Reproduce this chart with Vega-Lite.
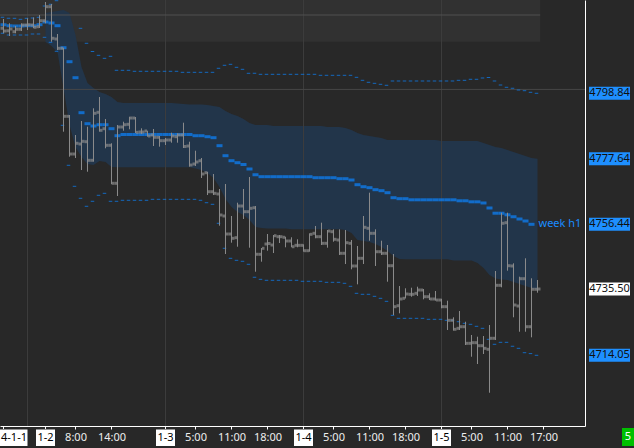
{
  "$schema": "https://vega.github.io/schema/vega-lite/v6.json",
  "width": 585,
  "height": 426,
  "autosize": {"type": "none"},
  "padding": {"left": 0, "top": 0, "right": 49, "bottom": 22},
  "background": "#282828",
  "config": {"view": {"stroke": null}, "font": "Noto Sans", "axis": {"labelOverlap": false}},
  "datasets": {
    "bars": [
      {"k":0,"open":4819.87,"high":4822.88,"low":4818.25,"close":4819.0,"mid":4821.04,"outerHi":4823.43,"outerLo":4818.25},
      {"k":1,"open":4819.09,"high":4821.49,"low":4817.38,"close":4819.65,"mid":4820.71,"outerHi":4823.11,"outerLo":4817.7},
      {"k":2,"open":4818.77,"high":4820.62,"low":4818.25,"close":4819.55,"mid":4820.62,"outerHi":4823.11,"outerLo":4817.7},
      {"k":3,"open":4819.55,"high":4821.49,"low":4819.0,"close":4820.94,"mid":4820.62,"outerHi":4822.78,"outerLo":4817.7},
      {"k":4,"open":4820.94,"high":4823.11,"low":4819.32,"close":4821.04,"mid":4820.71,"outerHi":4823.11,"outerLo":4817.7},
      {"k":5,"open":4820.94,"high":4823.37,"low":4819.87,"close":4820.2,"mid":4820.71,"outerHi":4823.2,"outerLo":4818.03},
      {"k":6,"open":4820.39,"high":4824.18,"low":4819.97,"close":4822.33,"mid":4821.04,"outerHi":4823.43,"outerLo":4818.03},
      {"k":7,"open":4822.33,"high":4828.38,"low":4821.49,"close":4826.86,"bandHi":4824.82,"bandLo":4815.44,"mid":4821.91,"outerHi":4827.09,"outerLo":4816.96},
      {"k":8,"open":4826.86,"high":4827.74,"low":4815.53,"close":4816.64,"bandHi":4825.15,"bandLo":4814.14,"mid":4821.59,"outerHi":4827.64,"outerLo":4815.34},
      {"k":9,"open":4816.41,"high":4818.03,"low":4812.85,"close":4813.4,"bandHi":4825.47,"bandLo":4812.2,"mid":4820.71,"outerHi":4828.8,"outerLo":4812.43},
      {"k":10,"open":4813.4,"high":4813.59,"low":4786.41,"close":4791.39,"bandHi":4825.79,"bandLo":4800.55,"mid":4813.59,"outerLo":4788.48},
      {"k":11,"open":4791.39,"high":4791.81,"low":4778.32,"close":4779.19,"bandHi":4824.82,"bandLo":4788.58,"mid":4809.06,"outerLo":4775.54},
      {"k":12,"open":4779.19,"high":4785.34,"low":4777.9,"close":4782.66,"bandHi":4817.7,"bandLo":4781.46,"mid":4803.88,"outerLo":4768.74},
      {"k":13,"open":4782.43,"high":4789.87,"low":4774.01,"close":4783.3,"bandHi":4807.35,"bandLo":4778.22,"mid":4792.56,"outerHi":4819.87,"outerLo":4764.86},
      {"k":14,"open":4783.17,"high":4788.03,"low":4773.46,"close":4777.15,"bandHi":4802.17,"bandLo":4775.96,"mid":4789.0,"outerHi":4815.02,"outerLo":4762.27},
      {"k":15,"open":4777.15,"high":4793.98,"low":4776.7,"close":4792.36,"bandHi":4800.55,"bandLo":4775.63,"mid":4788.25,"outerHi":4812.36,"outerLo":4763.89},
      {"k":16,"open":4792.69,"high":4797.64,"low":4786.41,"close":4786.86,"bandHi":4799.26,"bandLo":4776.93,"mid":4788.67,"outerHi":4811.13,"outerLo":4765.83},
      {"k":17,"open":4787.38,"high":4790.52,"low":4781.04,"close":4782.01,"bandHi":4798.61,"bandLo":4776.6,"mid":4788.67,"outerHi":4810.16,"outerLo":4766.47},
      {"k":18,"open":4782.01,"high":4782.66,"low":4769.39,"close":4769.71,"bandHi":4797.64,"bandLo":4774.99,"mid":4787.38,"outerHi":4810.81,"outerLo":4763.89},
      {"k":19,"open":4769.71,"high":4788.58,"low":4765.6,"close":4787.93,"bandHi":4796.02,"bandLo":4774.89,"mid":4785.11,"outerHi":4806.28,"outerLo":4763.89},
      {"k":20,"open":4787.93,"high":4789.64,"low":4786.73,"close":4788.67,"bandHi":4795.7,"bandLo":4774.89,"mid":4785.5,"outerHi":4806.28,"outerLo":4764.21},
      {"k":21,"open":4788.8,"high":4791.26,"low":4787.19,"close":4790.84,"bandHi":4795.7,"bandLo":4774.89,"mid":4785.5,"outerHi":4806.28,"outerLo":4764.21},
      {"k":22,"open":4790.84,"high":4791.17,"low":4785.99,"close":4786.21,"bandHi":4795.7,"bandLo":4774.89,"mid":4785.5,"outerHi":4805.96,"outerLo":4764.21},
      {"k":23,"open":4786.31,"high":4787.51,"low":4785.66,"close":4786.31,"bandHi":4795.7,"bandLo":4774.89,"mid":4785.5,"outerHi":4805.96,"outerLo":4764.21},
      {"k":24,"open":4786.64,"high":4786.73,"low":4784.79,"close":4785.02,"bandHi":4795.7,"bandLo":4774.89,"mid":4785.5,"outerHi":4805.96,"outerLo":4764.21},
      {"k":25,"open":4785.34,"high":4787.28,"low":4781.78,"close":4784.6,"bandHi":4795.7,"bandLo":4774.89,"mid":4785.5,"outerHi":4805.96,"outerLo":4764.53},
      {"k":26,"open":4784.6,"high":4785.02,"low":4781.56,"close":4783.5,"bandHi":4795.7,"bandLo":4774.89,"mid":4785.5,"outerHi":4805.96,"outerLo":4764.53},
      {"k":27,"open":4783.5,"high":4784.37,"low":4782.11,"close":4783.72,"bandHi":4795.7,"bandLo":4774.89,"mid":4785.5,"outerHi":4805.96,"outerLo":4764.53},
      {"k":28,"open":4783.72,"high":4786.09,"low":4782.85,"close":4785.02,"bandHi":4795.7,"bandLo":4774.89,"mid":4785.5,"outerHi":4805.96,"outerLo":4764.53},
      {"k":29,"open":4784.79,"high":4785.89,"low":4782.85,"close":4785.34,"bandHi":4795.54,"bandLo":4774.89,"mid":4785.5,"outerHi":4805.96,"outerLo":4764.53},
      {"k":30,"open":4785.34,"high":4789.32,"low":4781.13,"close":4781.62,"bandHi":4795.37,"bandLo":4774.89,"mid":4785.5,"outerHi":4805.63,"outerLo":4764.53},
      {"k":31,"open":4781.78,"high":4783.17,"low":4775.08,"close":4775.63,"bandHi":4795.21,"bandLo":4774.89,"mid":4785.5,"outerHi":4805.63,"outerLo":4764.53},
      {"k":32,"open":4775.96,"high":4780.26,"low":4775.31,"close":4776.6,"bandHi":4795.21,"bandLo":4774.5,"mid":4785.11,"outerHi":4805.63,"outerLo":4764.53},
      {"k":33,"open":4777.02,"high":4777.9,"low":4771.43,"close":4772.72,"bandHi":4795.21,"bandLo":4774.01,"mid":4785.11,"outerHi":4805.63,"outerLo":4764.21},
      {"k":34,"open":4773.14,"high":4773.46,"low":4765.92,"close":4766.99,"bandHi":4795.05,"bandLo":4773.04,"mid":4784.79,"outerHi":4805.63,"outerLo":4763.43},
      {"k":35,"open":4766.99,"high":4772.72,"low":4765.92,"close":4766.47,"bandHi":4794.73,"bandLo":4771.43,"mid":4784.47,"outerHi":4805.63,"outerLo":4762.91},
      {"k":36,"open":4766.25,"high":4767.87,"low":4755.99,"close":4759.45,"bandHi":4794.4,"bandLo":4768.51,"mid":4781.88,"outerHi":4806.93,"outerLo":4756.77},
      {"k":37,"open":4759.13,"high":4769.48,"low":4746.83,"close":4753.3,"bandHi":4793.11,"bandLo":4764.63,"mid":4778.64,"outerHi":4807.9,"outerLo":4748.68},
      {"k":38,"open":4753.3,"high":4759.13,"low":4750.49,"close":4751.91,"bandHi":4792.14,"bandLo":4762.04,"mid":4777.02,"outerHi":4808.22,"outerLo":4745.44},
      {"k":39,"open":4752.11,"high":4763.43,"low":4749.19,"close":4762.36,"bandHi":4791.49,"bandLo":4760.42,"mid":4776.38,"outerHi":4807.25,"outerLo":4744.79},
      {"k":40,"open":4762.36,"high":4767.87,"low":4758.16,"close":4760.52,"bandHi":4790.52,"bandLo":4759.45,"mid":4775.79,"outerHi":4806.6,"outerLo":4744.47},
      {"k":41,"open":4760.52,"high":4771.75,"low":4748.87,"close":4761.62,"bandHi":4789.22,"bandLo":4757.83,"mid":4774.34,"outerHi":4805.31,"outerLo":4743.5},
      {"k":42,"open":4761.81,"high":4762.36,"low":4741.1,"close":4746.73,"bandHi":4788.58,"bandLo":4755.57,"mid":4772.49,"outerHi":4805.31,"outerLo":4739.29},
      {"k":43,"open":4746.73,"high":4748.77,"low":4744.34,"close":4748.67,"bandHi":4788.58,"bandLo":4755.24,"mid":4771.85,"outerHi":4804.98,"outerLo":4738.64},
      {"k":44,"open":4750.07,"high":4753.3,"low":4747.9,"close":4750.23,"bandHi":4788.58,"bandLo":4755.08,"mid":4771.85,"outerHi":4804.98,"outerLo":4738.32},
      {"k":45,"open":4749.74,"high":4752.98,"low":4747.15,"close":4752.75,"bandHi":4788.25,"bandLo":4755.08,"mid":4771.85,"outerHi":4804.98,"outerLo":4738.32},
      {"k":46,"open":4752.43,"high":4752.98,"low":4750.39,"close":4752.43,"bandHi":4788.25,"bandLo":4755.08,"mid":4771.85,"outerHi":4804.98,"outerLo":4738.32},
      {"k":47,"open":4752.24,"high":4752.43,"low":4749.0,"close":4751.04,"bandHi":4788.25,"bandLo":4755.08,"mid":4771.85,"outerHi":4804.98,"outerLo":4738.32},
      {"k":48,"open":4751.04,"high":4752.24,"low":4749.0,"close":4749.19,"bandHi":4788.25,"bandLo":4754.82,"mid":4771.85,"outerHi":4804.98,"outerLo":4738.32},
      {"k":49,"open":4749.64,"high":4751.59,"low":4749.0,"close":4749.64,"bandHi":4788.25,"bandLo":4754.82,"mid":4771.85,"outerHi":4804.98,"outerLo":4738.32},
      {"k":50,"open":4749.64,"high":4749.97,"low":4747.57,"close":4747.9,"bandHi":4788.25,"bandLo":4754.82,"mid":4771.85,"outerHi":4804.98,"outerLo":4738.0},
      {"k":51,"open":4747.9,"high":4753.53,"low":4747.57,"close":4753.2,"bandHi":4788.25,"bandLo":4754.82,"mid":4771.85,"outerHi":4804.98,"outerLo":4738.0},
      {"k":52,"open":4753.53,"high":4755.89,"low":4751.91,"close":4752.43,"bandHi":4788.25,"bandLo":4754.82,"mid":4771.52,"outerHi":4804.98,"outerLo":4738.0},
      {"k":53,"open":4752.43,"high":4756.96,"low":4749.74,"close":4750.29,"bandHi":4788.25,"bandLo":4754.82,"mid":4771.52,"outerHi":4804.66,"outerLo":4738.0},
      {"k":54,"open":4750.29,"high":4754.6,"low":4748.87,"close":4754.27,"bandHi":4787.93,"bandLo":4754.82,"mid":4771.52,"outerHi":4804.66,"outerLo":4737.67},
      {"k":55,"open":4754.05,"high":4754.82,"low":4750.81,"close":4751.59,"bandHi":4787.93,"bandLo":4754.82,"mid":4771.52,"outerHi":4804.66,"outerLo":4737.67},
      {"k":56,"open":4751.36,"high":4754.82,"low":4746.51,"close":4747.06,"bandHi":4787.93,"bandLo":4754.82,"mid":4771.2,"outerHi":4804.66,"outerLo":4737.67},
      {"k":57,"open":4747.06,"high":4754.6,"low":4743.59,"close":4750.49,"bandHi":4787.61,"bandLo":4754.6,"mid":4771.2,"outerHi":4804.66,"outerLo":4737.35},
      {"k":58,"open":4750.29,"high":4751.36,"low":4741.88,"close":4742.95,"bandHi":4786.96,"bandLo":4753.63,"mid":4770.78,"outerHi":4804.66,"outerLo":4736.38},
      {"k":59,"open":4742.95,"high":4749.42,"low":4737.02,"close":4745.44,"bandHi":4785.99,"bandLo":4751.36,"mid":4769.26,"outerHi":4804.01,"outerLo":4734.11},
      {"k":60,"open":4745.44,"high":4759.13,"low":4743.59,"close":4755.47,"bandHi":4785.34,"bandLo":4751.04,"mid":4768.61,"outerHi":4803.04,"outerLo":4733.79},
      {"k":61,"open":4755.15,"high":4766.67,"low":4751.13,"close":4753.53,"bandHi":4785.02,"bandLo":4750.71,"mid":4768.29,"outerHi":4802.4,"outerLo":4733.79},
      {"k":62,"open":4753.53,"high":4754.82,"low":4742.95,"close":4747.57,"bandHi":4784.69,"bandLo":4750.07,"mid":4767.64,"outerHi":4802.07,"outerLo":4733.14},
      {"k":63,"open":4747.57,"high":4751.13,"low":4746.51,"close":4747.06,"bandHi":4784.37,"bandLo":4749.1,"mid":4767.32,"outerHi":4801.75,"outerLo":4732.49},
      {"k":64,"open":4747.06,"high":4749.74,"low":4737.87,"close":4743.04,"bandHi":4783.72,"bandLo":4747.8,"mid":4766.67,"outerHi":4801.43,"outerLo":4731.52},
      {"k":65,"open":4743.04,"high":4746.83,"low":4727.09,"close":4729.78,"bandHi":4783.72,"bandLo":4746.18,"mid":4765.05,"outerHi":4802.82,"outerLo":4726.99},
      {"k":66,"open":4730.1,"high":4736.47,"low":4727.64,"close":4732.27,"bandHi":4783.72,"bandLo":4745.21,"mid":4764.73,"outerHi":4802.82,"outerLo":4726.02},
      {"k":67,"open":4732.49,"high":4735.73,"low":4732.43,"close":4733.89,"bandHi":4783.72,"bandLo":4745.12,"mid":4764.73,"outerHi":4802.82,"outerLo":4726.02},
      {"k":68,"open":4733.79,"high":4735.92,"low":4733.01,"close":4733.79,"bandHi":4783.72,"bandLo":4745.12,"mid":4764.37,"outerHi":4802.82,"outerLo":4726.02},
      {"k":69,"open":4734.11,"high":4736.25,"low":4733.24,"close":4735.18,"bandHi":4783.72,"bandLo":4745.12,"mid":4764.37,"outerHi":4802.82,"outerLo":4726.02},
      {"k":70,"open":4735.18,"high":4735.5,"low":4732.17,"close":4733.01,"bandHi":4783.72,"bandLo":4745.12,"mid":4764.37,"outerHi":4802.82,"outerLo":4726.02},
      {"k":71,"open":4733.01,"high":4734.11,"low":4731.94,"close":4732.27,"bandHi":4783.72,"bandLo":4745.12,"mid":4764.37,"outerHi":4802.82,"outerLo":4725.7},
      {"k":72,"open":4732.27,"high":4734.86,"low":4731.72,"close":4731.94,"bandHi":4783.72,"bandLo":4745.12,"mid":4764.37,"outerHi":4802.82,"outerLo":4725.7},
      {"k":73,"open":4731.94,"high":4732.36,"low":4729.26,"close":4729.78,"bandHi":4783.4,"bandLo":4745.12,"mid":4764.37,"outerHi":4802.82,"outerLo":4725.7},
      {"k":74,"open":4729.78,"high":4731.72,"low":4722.24,"close":4725.37,"bandHi":4783.4,"bandLo":4745.12,"mid":4764.37,"outerHi":4802.82,"outerLo":4725.37},
      {"k":75,"open":4725.37,"high":4726.34,"low":4722.01,"close":4722.46,"bandHi":4783.4,"bandLo":4744.73,"mid":4764.37,"outerHi":4802.82,"outerLo":4725.37},
      {"k":76,"open":4722.78,"high":4728.38,"low":4722.24,"close":4723.3,"bandHi":4783.4,"bandLo":4744.73,"mid":4764.05,"outerHi":4803.04,"outerLo":4724.92},
      {"k":77,"open":4723.3,"high":4724.92,"low":4717.38,"close":4717.93,"bandHi":4783.4,"bandLo":4744.73,"mid":4764.05,"outerHi":4803.04,"outerLo":4724.4},
      {"k":78,"open":4717.93,"high":4720.62,"low":4713.59,"close":4718.13,"bandHi":4783.4,"bandLo":4744.73,"mid":4763.72,"outerHi":4803.37,"outerLo":4724.08},
      {"k":79,"open":4718.13,"high":4720.07,"low":4711.23,"close":4717.15,"bandHi":4783.4,"bandLo":4743.92,"mid":4763.72,"outerHi":4803.37,"outerLo":4723.43},
      {"k":80,"open":4717.15,"high":4720.29,"low":4714.47,"close":4716.31,"bandHi":4782.75,"bandLo":4742.3,"mid":4763.34,"outerHi":4803.79,"outerLo":4722.78},
      {"k":81,"open":4715.99,"high":4723.85,"low":4701.94,"close":4719.55,"bandHi":4782.11,"bandLo":4740.03,"mid":4761.72,"outerHi":4803.95,"outerLo":4719.22},
      {"k":82,"open":4719.55,"high":4741.33,"low":4719.0,"close":4736.7,"bandHi":4781.46,"bandLo":4738.9,"mid":4760.03,"outerHi":4802.82,"outerLo":4717.61},
      {"k":83,"open":4736.7,"high":4760.2,"low":4736.05,"close":4756.77,"bandHi":4781.13,"bandLo":4738.58,"mid":4760.03,"outerHi":4801.52,"outerLo":4718.25},
      {"k":84,"open":4756.96,"high":4760.2,"low":4741.43,"close":4743.04,"bandHi":4780.49,"bandLo":4738.42,"mid":4759.52,"outerHi":4800.78,"outerLo":4718.25},
      {"k":85,"open":4742.95,"high":4743.82,"low":4726.35,"close":4730.33,"bandHi":4779.84,"bandLo":4737.77,"mid":4758.87,"outerHi":4800.45,"outerLo":4716.96},
      {"k":86,"open":4730.0,"high":4739.48,"low":4721.68,"close":4738.84,"bandHi":4779.19,"bandLo":4737.12,"mid":4758.16,"outerHi":4799.9,"outerLo":4716.31},
      {"k":87,"open":4738.84,"high":4745.44,"low":4721.68,"close":4723.3,"bandHi":4778.55,"bandLo":4736.47,"mid":4757.51,"outerHi":4799.68,"outerLo":4714.89},
      {"k":88,"open":4723.3,"high":4738.97,"low":4719.87,"close":4735.41,"bandHi":4777.9,"bandLo":4735.83,"mid":4756.44,"outerHi":4799.16,"outerLo":4714.6},
      {"k":89,"open":4735.41,"high":4738.42,"low":4734.31,"close":4735.5,"bandHi":4777.64,"bandLo":4735.18,"outerHi":4798.84,"outerLo":4714.05}
    ],
    "priceTags": [
      {"p": 4798.84, "last": false},
      {"p": 4777.64, "last": false},
      {"p": 4756.44, "last": false},
      {"p": 4735.5, "last": true},
      {"p": 4714.05, "last": false}
    ],
    "dates": [
      {"k": 0, "label": "4-1-1"},
      {"k": 7, "label": "1-2"},
      {"k": 27, "label": "1-3"},
      {"k": 50, "label": "1-4"},
      {"k": 73, "label": "1-5"}
    ]
  },
  "data": {"name": "bars"},
  "layer": [
    {
      "data": {"values": [{}]},
      "mark": {"type": "rect", "color": "#313131"},
      "encoding": {
        "x": {"datum": -0.5833, "type": "quantitative"},
        "x2": {"datum": 89.45},
        "y": {"datum": 4829.03, "type": "quantitative"},
        "y2": {"datum": 4815.5}
      }
    },
    {
      "transform": [{"filter": {"field": "bandHi", "valid": true}}],
      "mark": {"type": "area", "color": "#22354a", "interpolate": "linear"},
      "encoding": {
        "x": {
          "field": "k", "type": "quantitative", "title": null,
          "scale": {"domain": [-0.5833, 96.9167], "nice": false, "zero": false},
          "axis": {
            "values": [12, 18, 32, 38, 44, 55, 61, 67, 78, 84, 90],
            "labelExpr": "datum.value == 12 ? '8:00' : datum.value == 18 ? '14:00' : (datum.value == 32 || datum.value == 55 || datum.value == 78) ? '5:00' : (datum.value == 38 || datum.value == 61 || datum.value == 84) ? '11:00' : (datum.value == 44 || datum.value == 67) ? '18:00' : '17:00'",
            "grid": false,
            "domainColor": "#ffffff",
            "tickColor": "#ffffff",
            "tickSize": 3,
            "labelColor": "#eeeeee",
            "labelFontSize": 11,
            "labelPadding": 2,
            "labelFlush": false,
            "labelOverlap": false,
            "zindex": 1
          }
        },
        "y": {
          "field": "bandHi", "type": "quantitative", "title": null,
          "scale": {"domain": [4691.17, 4829.03], "nice": false, "zero": false},
          "axis": {"orient": "right", "labels": false, "ticks": false, "grid": false, "domainColor": "#ffffff", "zindex": 1}
        },
        "y2": {"field": "bandLo"}
      }
    },
    {
      "data": {"values": [{"k": 4}, {"k": 27}, {"k": 50}, {"k": 73}]},
      "mark": {"type": "rule", "color": "#3d3d3d"},
      "encoding": {"x": {"field": "k", "type": "quantitative", "title": null}}
    },
    {
      "data": {"values": [{}]},
      "mark": {"type": "rule", "color": "#474747"},
      "encoding": {"y": {"datum": 4800.1, "type": "quantitative"}}
    },
    {
      "data": {"values": [{}]},
      "mark": {"type": "rule", "color": "#505050"},
      "encoding": {
        "x": {"datum": -0.5833, "type": "quantitative"},
        "x2": {"datum": 89.45},
        "y": {"datum": 4824.18, "type": "quantitative"}
      }
    },
    {
      "transform": [{"filter": {"field": "outerHi", "valid": true}}],
      "mark": {"type": "tick", "orient": "horizontal", "color": "#0b84ff", "size": 3.5, "thickness": 1, "xOffset": -1},
      "encoding": {
        "x": {"field": "k", "type": "quantitative", "title": null},
        "y": {"field": "outerHi", "type": "quantitative", "title": null}
      }
    },
    {
      "mark": {"type": "tick", "orient": "horizontal", "color": "#0b84ff", "size": 3.5, "thickness": 1, "xOffset": -1},
      "encoding": {
        "x": {"field": "k", "type": "quantitative", "title": null},
        "y": {"field": "outerLo", "type": "quantitative", "title": null}
      }
    },
    {
      "transform": [{"filter": {"field": "mid", "valid": true}}],
      "mark": {"type": "tick", "orient": "horizontal", "color": "#0b84ff", "size": 6, "thickness": 3},
      "encoding": {
        "x": {"field": "k", "type": "quantitative", "title": null},
        "y": {"field": "mid", "type": "quantitative", "title": null}
      }
    },
    {
      "mark": {"type": "rule", "color": "#8c8c8c", "strokeWidth": 1},
      "encoding": {
        "x": {"field": "k", "type": "quantitative", "title": null},
        "y": {"field": "low", "type": "quantitative", "title": null},
        "y2": {"field": "high"}
      }
    },
    {
      "mark": {"type": "tick", "orient": "horizontal", "color": "#8c8c8c", "size": 2.5, "thickness": 3, "xOffset": -1.75},
      "encoding": {
        "x": {"field": "k", "type": "quantitative", "title": null},
        "y": {"field": "open", "type": "quantitative", "title": null}
      }
    },
    {
      "mark": {"type": "tick", "orient": "horizontal", "color": "#8c8c8c", "size": 2.5, "thickness": 3, "xOffset": 1.75},
      "encoding": {
        "x": {"field": "k", "type": "quantitative", "title": null},
        "y": {"field": "close", "type": "quantitative", "title": null}
      }
    },
    {
      "data": {"values": [{"k": 89, "p": 4756.44, "name": "week h1"}]},
      "mark": {"type": "text", "color": "#1a8cff", "fontSize": 11, "align": "left", "baseline": "middle", "dx": 1},
      "encoding": {
        "x": {"field": "k", "type": "quantitative", "title": null},
        "y": {"field": "p", "type": "quantitative", "title": null},
        "text": {"field": "name"}
      }
    },
    {
      "data": {"name": "priceTags"},
      "mark": {"type": "rule", "strokeWidth": 13, "strokeCap": "butt", "xOffset": 4, "x2Offset": 45},
      "encoding": {
        "x": {"value": "width"},
        "x2": {"value": "width"},
        "y": {"field": "p", "type": "quantitative", "title": null},
        "color": {"condition": {"test": "datum.last", "value": "#ffffff"}, "value": "#1e8fff"}
      }
    },
    {
      "data": {"name": "priceTags"},
      "mark": {"type": "text", "color": "#101010", "fontSize": 11, "align": "center", "baseline": "middle", "dx": 24.5},
      "encoding": {
        "x": {"value": "width"},
        "y": {"field": "p", "type": "quantitative", "title": null},
        "text": {"field": "p", "type": "quantitative", "format": ".2f"}
      }
    },
    {
      "data": {"name": "dates"},
      "mark": {"type": "rule", "color": "#ffffff", "strokeWidth": 1, "y2Offset": 3},
      "encoding": {
        "x": {"field": "k", "type": "quantitative", "title": null},
        "y": {"value": "height"},
        "y2": {"value": "height"}
      }
    },
    {
      "data": {"name": "dates"},
      "mark": {"type": "rule", "color": "#ffffff", "strokeCap": "butt", "yOffset": 3.5, "y2Offset": 20},
      "encoding": {
        "x": {"field": "k", "type": "quantitative", "title": null},
        "y": {"value": "height"},
        "y2": {"value": "height"},
        "strokeWidth": {"condition": {"test": "datum.k == 0", "value": 48}, "value": 19}
      }
    },
    {
      "data": {"name": "dates"},
      "transform": [{"filter": "datum.k > 0"}],
      "mark": {"type": "text", "color": "#000000", "fontSize": 11, "align": "center", "baseline": "middle", "yOffset": 12},
      "encoding": {
        "x": {"field": "k", "type": "quantitative", "title": null},
        "y": {"value": "height"},
        "text": {"field": "label"}
      }
    },
    {
      "data": {"name": "dates"},
      "transform": [{"filter": "datum.k == 0"}],
      "mark": {"type": "text", "color": "#000000", "fontSize": 11, "align": "left", "baseline": "middle", "dx": -2.5, "yOffset": 12},
      "encoding": {
        "x": {"field": "k", "type": "quantitative", "title": null},
        "y": {"value": "height"},
        "text": {"field": "label"}
      }
    },
    {
      "data": {"values": [{"t": "5"}]},
      "mark": {"type": "rule", "color": "#00c000", "strokeWidth": 18, "strokeCap": "butt", "xOffset": 37, "x2Offset": 49, "yOffset": 11},
      "encoding": {
        "x": {"value": "width"},
        "x2": {"value": "width"},
        "y": {"value": "height"}
      }
    },
    {
      "data": {"values": [{"t": "5"}]},
      "mark": {"type": "text", "color": "#ffffff", "fontSize": 11, "align": "center", "baseline": "middle", "xOffset": 43, "yOffset": 11},
      "encoding": {
        "x": {"value": "width"},
        "y": {"value": "height"},
        "text": {"field": "t"}
      }
    }
  ]
}
